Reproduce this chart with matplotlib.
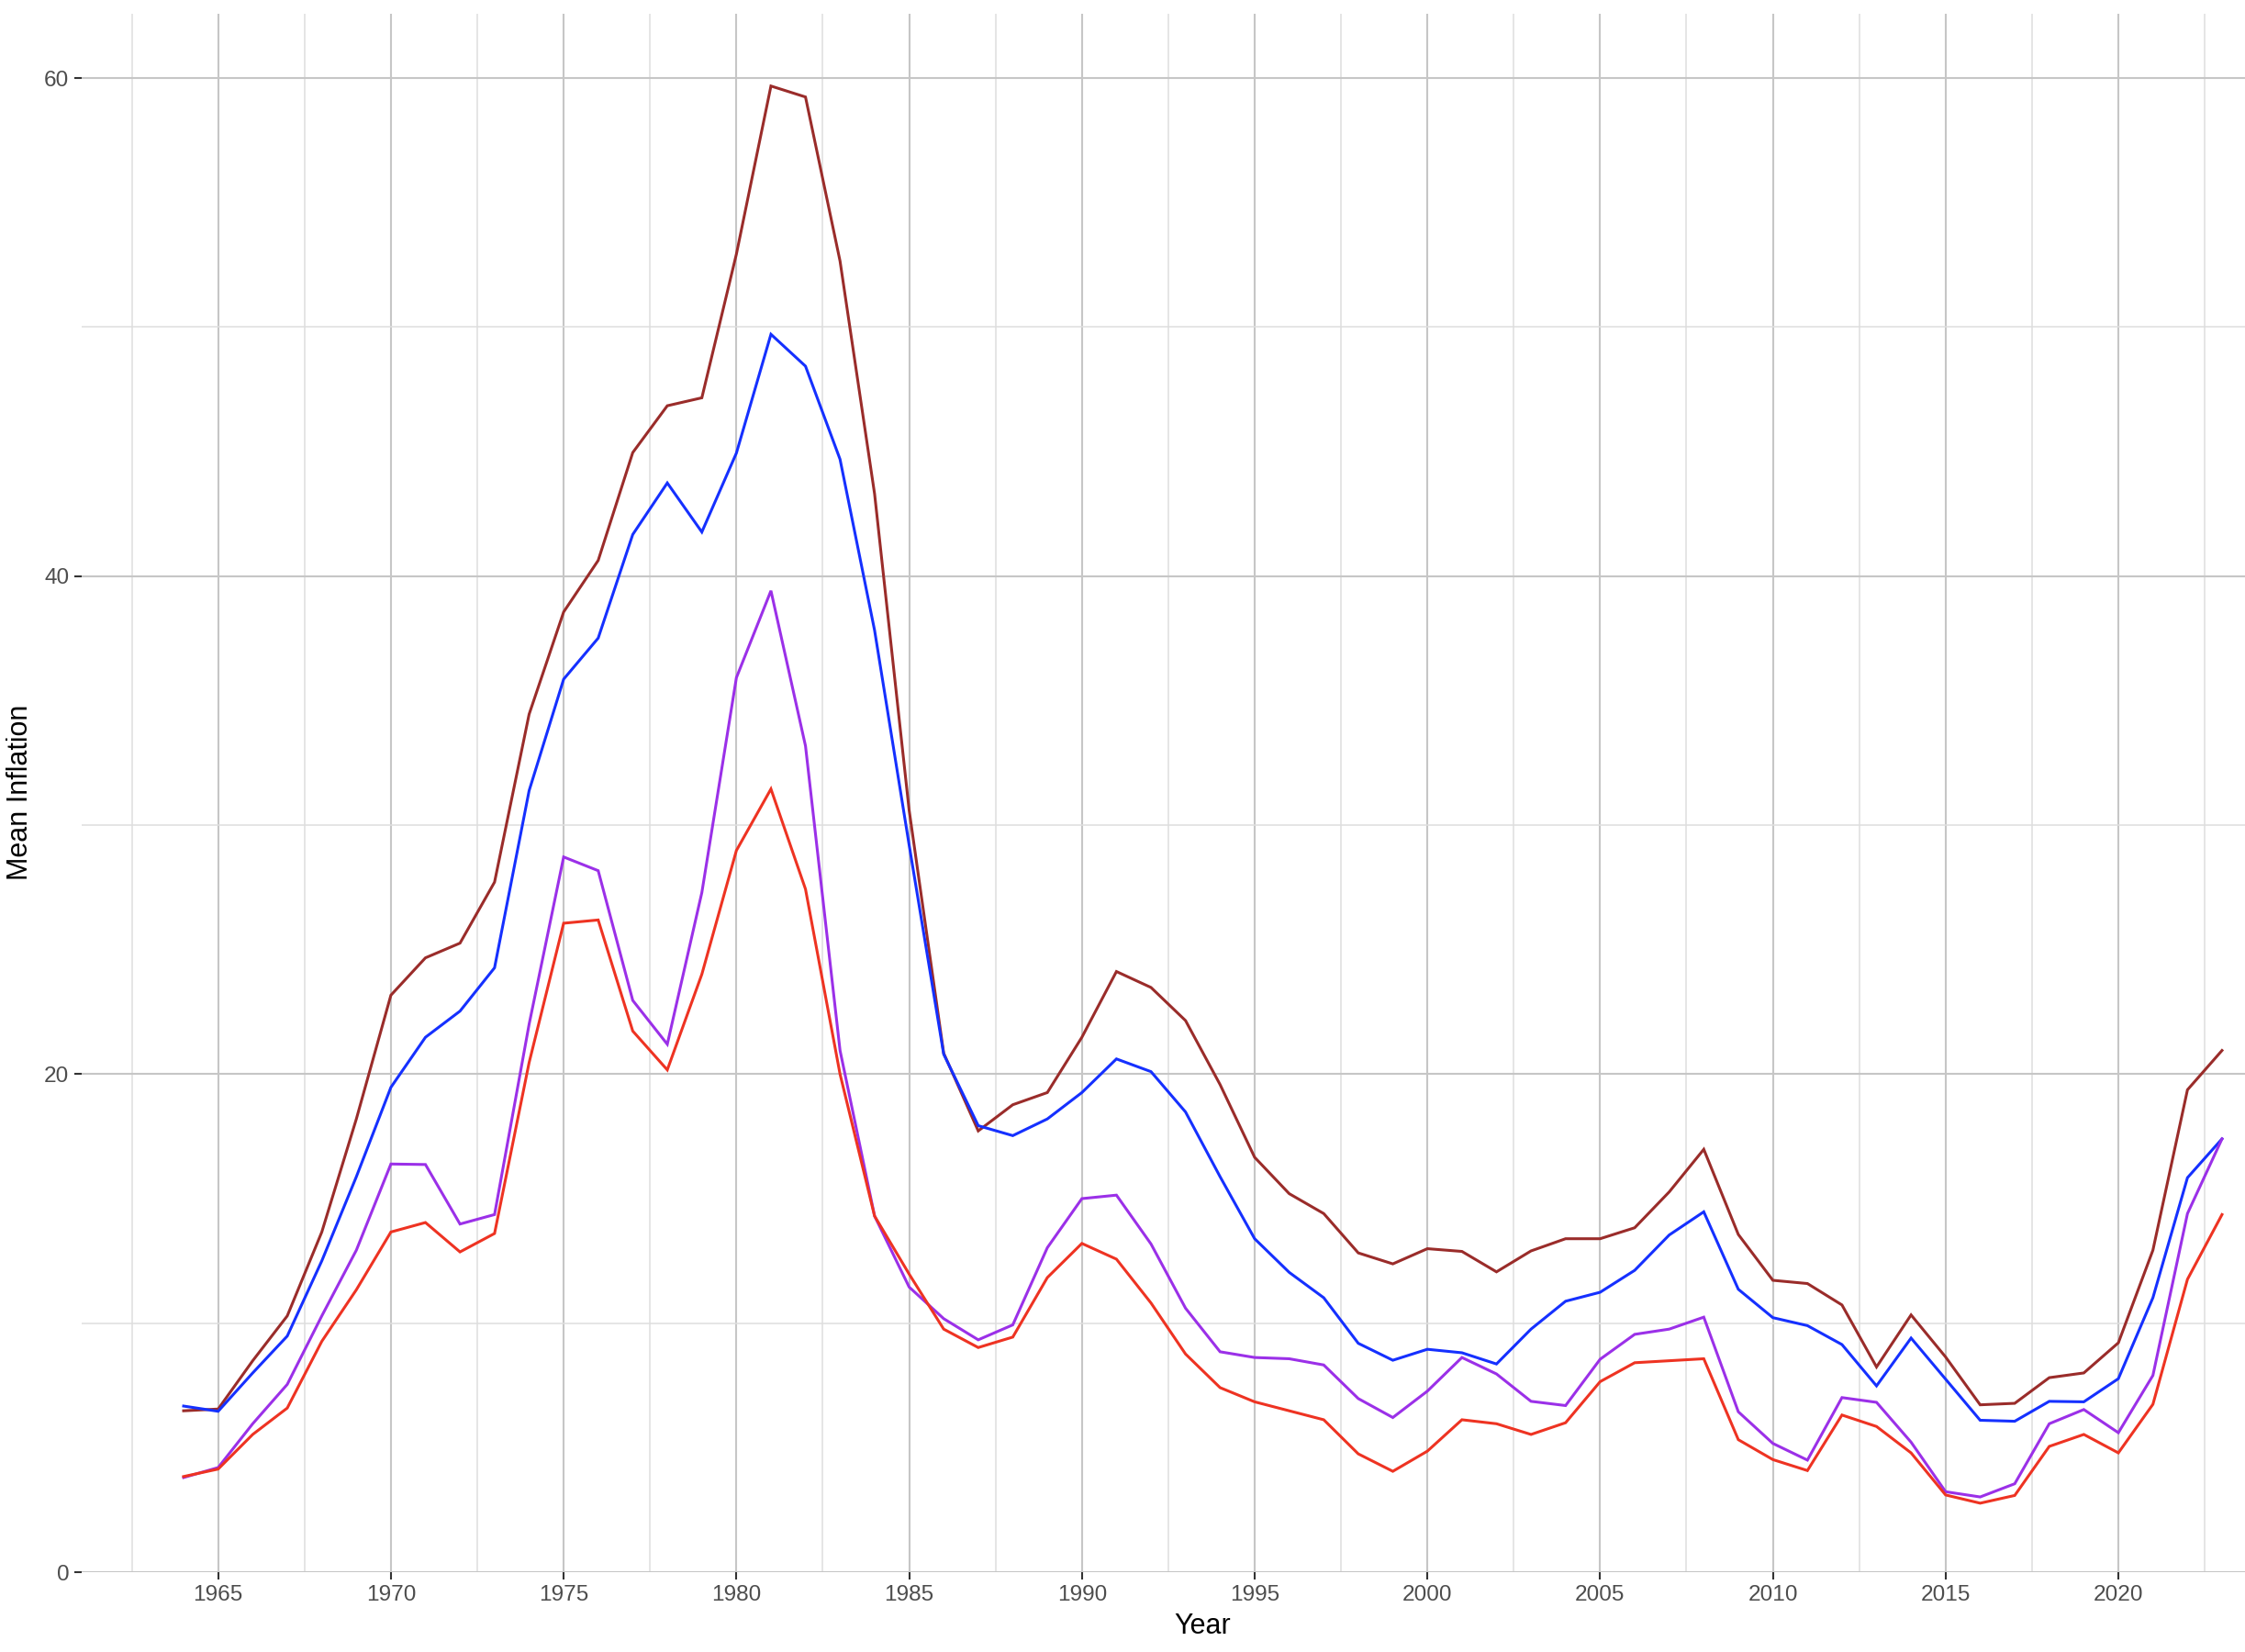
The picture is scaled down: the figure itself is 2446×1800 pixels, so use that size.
import matplotlib
matplotlib.use('Agg')
import matplotlib.pyplot as plt
import numpy as np

plt.rcParams['font.family'] = ['Liberation Sans', 'DejaVu Sans']

# Data
years = list(range(1964, 2024))

brown = [6.48, 6.55, 8.49, 10.29, 13.66, 18.2, 23.17, 24.67, 25.26, 27.71,
         34.45, 38.56, 40.63, 44.96, 46.84, 47.16, 52.93, 59.68, 59.24, 52.65,
         43.3, 30.6, 20.84, 17.72, 18.77, 19.26, 21.48, 24.12, 23.48, 22.15,
         19.58, 16.66, 15.2, 14.4, 12.82, 12.38, 12.99, 12.88, 12.06, 12.9,
         13.39, 13.39, 13.83, 15.27, 16.98, 13.56, 11.72, 11.59, 10.73, 8.24,
         10.33, 8.64, 6.72, 6.78, 7.81, 8.0, 9.21, 12.93, 19.37, 20.95]

blue = [6.67, 6.46, 8.0, 9.48, 12.5, 15.88, 19.47, 21.48, 22.53, 24.27,
        31.38, 35.86, 37.51, 41.67, 43.74, 41.77, 44.94, 49.71, 48.43, 44.69,
        37.82, 29.2, 20.8, 17.93, 17.53, 18.2, 19.26, 20.61, 20.1, 18.48,
        15.88, 13.39, 12.04, 11.02, 9.19, 8.51, 8.95, 8.81, 8.36, 9.76,
        10.88, 11.24, 12.12, 13.54, 14.47, 11.36, 10.22, 9.9, 9.14, 7.48,
        9.4, 7.75, 6.1, 6.06, 6.86, 6.84, 7.77, 11.02, 15.84, 17.4]

purple = [3.8, 4.2, 5.96, 7.54, 10.29, 12.93, 16.39, 16.37, 13.98, 14.36,
          22.0, 28.72, 28.17, 22.96, 21.2, 27.29, 35.92, 39.41, 33.18, 20.95,
          14.3, 11.45, 10.18, 9.33, 9.93, 13.03, 15.0, 15.14, 13.18, 10.6,
          8.85, 8.62, 8.57, 8.32, 6.97, 6.21, 7.27, 8.62, 7.96, 6.86,
          6.69, 8.55, 9.55, 9.76, 10.24, 6.44, 5.17, 4.5, 7.01, 6.82,
          5.22, 3.23, 3.02, 3.55, 5.96, 6.53, 5.6, 7.9, 14.4, 17.4]

red = [3.84, 4.14, 5.53, 6.59, 9.27, 11.34, 13.66, 14.04, 12.86, 13.6,
       20.46, 26.06, 26.19, 21.73, 20.17, 24.01, 28.98, 31.45, 27.43, 20.0,
       14.3, 11.97, 9.76, 9.02, 9.44, 11.83, 13.2, 12.57, 10.81, 8.76,
       7.41, 6.84, 6.48, 6.12, 4.75, 4.05, 4.86, 6.12, 5.96, 5.53,
       6.0, 7.65, 8.41, 8.49, 8.57, 5.32, 4.52, 4.08, 6.31, 5.85,
       4.79, 3.1, 2.77, 3.08, 5.05, 5.53, 4.79, 6.74, 11.76, 14.36]

series = [(brown, '#9a2c2a'), (blue, '#1530ff'), (purple, '#9b30e8'), (red, '#ee3322')]

fig = plt.figure(figsize=(12.23, 9), dpi=200)
# panel runs past the right edge, as in the reference (cropped)
ax = fig.add_axes([89/2446, 1 - 1713/1800, (2532 - 89)/2446, (1713 - 14.5)/1800])

for vals, col in series:
    ax.plot(years, vals, color=col, linewidth=1.1, solid_joinstyle='miter')

ax.set_xlim(1961.05, 2025.95)
ax.set_ylim(0, 62.6)

ax.set_xticks(np.arange(1965, 2021, 5))
ax.set_xticks(np.arange(1962.5, 2025, 5), minor=True)
ax.set_yticks([0, 20, 40, 60])
ax.set_yticks([10, 30, 50], minor=True)

ax.grid(which='major', color='#c6c6c6', linewidth=0.75)
ax.grid(which='minor', color='#dedede', linewidth=0.55)
ax.set_axisbelow(True)
for s in ax.spines.values():
    s.set_visible(False)

ax.tick_params(which='major', length=2.75, width=0.75, color='#333333',
               labelsize=8.8, labelcolor='#4d4d4d', pad=2.2)
ax.tick_params(which='minor', length=0)

ax.set_xlabel('Year', fontsize=11, labelpad=3)
ax.set_ylabel('Mean Inflation', fontsize=11, labelpad=4)

fig.savefig('out.png', dpi=200, facecolor='white')
